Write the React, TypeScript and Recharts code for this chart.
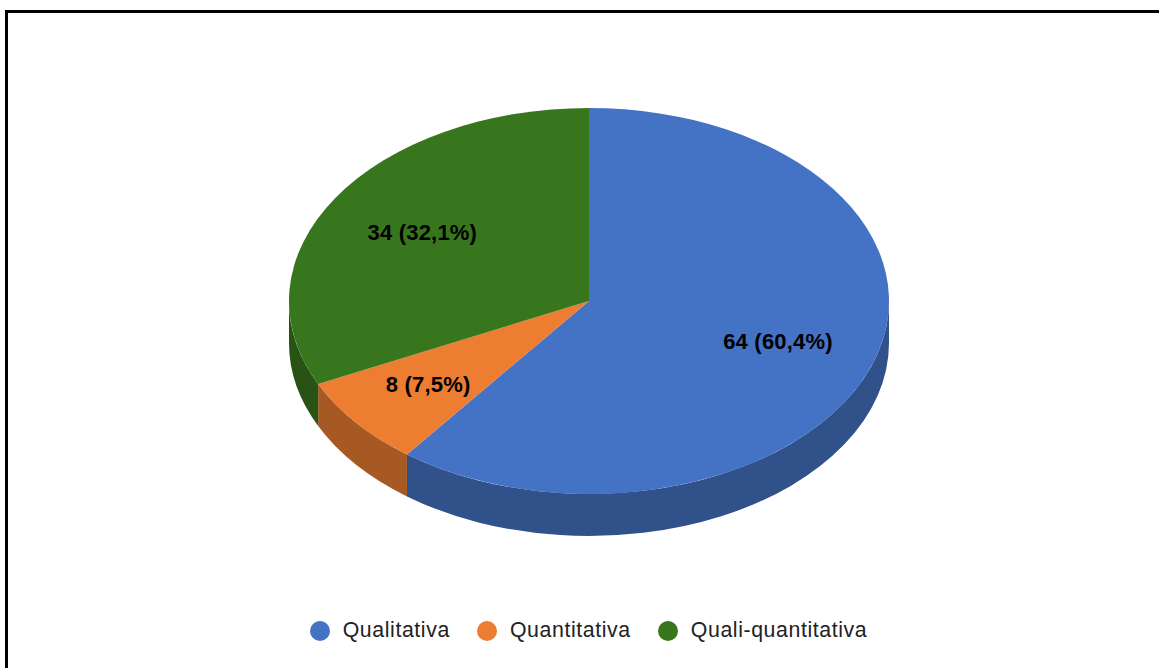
import { PieChart, Pie, Cell, Legend } from "recharts";

const categories = ["Qualitativa", "Quantitativa", "Quali-quantitativa"];
const counts = [64, 8, 34];
const topColors = ["#4472c4", "#ed7d31", "#38761d"];
const wallColors = ["#30518a", "#a65922", "#285314"];

const WIDTH = 1159;
const HEIGHT = 668;
const SQUASH = 193 / 300;
const DEPTH = 42;
const RAD = Math.PI / 180;

const data = categories.map((name, i) => ({ name, value: counts[i] }));

const point = (cx: number, cy: number, r: number, deg: number) => ({
  x: cx + r * Math.cos(deg * RAD),
  y: cy - r * SQUASH * Math.sin(deg * RAD),
});

// flattened slice, angles come from the Pie
function TopSlice(props: any) {
  const { cx, cy, outerRadius: r, startAngle, endAngle, fill } = props;
  const a = point(cx, cy, r, startAngle);
  const b = point(cx, cy, r, endAngle);
  const large = Math.abs(startAngle - endAngle) > 180 ? 1 : 0;
  const d = `M${cx},${cy} L${a.x},${a.y} A${r},${r * SQUASH} 0 ${large} 1 ${b.x},${b.y} Z`;
  return <path d={d} fill={fill} stroke="none" />;
}

// side wall, only the front half (0 to -180 deg) shows
function WallSlice(props: any) {
  const { cx, cy, outerRadius: r, startAngle, endAngle, fill } = props;
  const from = Math.min(startAngle, 0);
  const to = Math.max(endAngle, -180);
  if (from <= to) return <g />;
  const a = point(cx, cy, r, from);
  const b = point(cx, cy, r, to);
  const ry = r * SQUASH;
  const d =
    `M${a.x},${a.y} A${r},${ry} 0 0 1 ${b.x},${b.y} ` +
    `L${b.x},${b.y + DEPTH} A${r},${ry} 0 0 0 ${a.x},${a.y + DEPTH} Z`;
  return <path d={d} fill={fill} stroke="none" />;
}

function SliceLabel(props: any) {
  const { cx, cy, outerRadius: r, midAngle, value, percent, index } = props;
  const p = point(cx, cy, r * 0.665, midAngle);
  const pct = (percent * 100).toFixed(1).replace(".", ",");
  // labels sit slightly off the slices' mid lines in the original
  const dx = [0, -6, 2][index];
  const dy = [-1, 3, 0][index];
  return (
    <text
      x={p.x + dx}
      y={p.y + dy}
      textAnchor="middle"
      dominantBaseline="central"
      fill="#000000"
      fontFamily="Liberation Sans"
      fontWeight="bold"
      fontSize={22}
      letterSpacing={0.2}
    >
      {`${value} (${pct}%)`}
    </text>
  );
}

function LegendRow({ payload }: any) {
  const items = (payload || []).filter((item: any) => topColors.includes(item.color));
  return (
    <div
      style={{
        display: "flex",
        justifyContent: "center",
        gap: 27,
        fontFamily: "Liberation Sans",
        fontSize: 21.3,
        letterSpacing: 0.6,
        color: "#222222",
      }}
    >
      {items.map((item: any) => (
        <div key={item.value} style={{ display: "flex", alignItems: "center", gap: 13 }}>
          <svg width={20} height={20}>
            <circle cx={10} cy={10} r={10} fill={item.color} />
          </svg>
          <span>{item.value}</span>
        </div>
      ))}
    </div>
  );
}

export default function App() {
  return (
    <div style={{ position: "absolute", left: 0, top: 0, width: WIDTH, height: HEIGHT, background: "#ffffff", overflow: "hidden" }}>
      <div
        style={{
          position: "absolute",
          left: 5,
          top: 10,
          width: WIDTH,
          height: HEIGHT,
          borderLeft: "3px solid #000000",
          borderTop: "3px solid #000000",
        }}
      />
      <PieChart width={WIDTH} height={HEIGHT} margin={{ top: 0, right: 0, bottom: 0, left: 0 }} style={{ position: "absolute", left: 0, top: 0 }}>
        <Pie
          data={data}
          dataKey="value"
          nameKey="name"
          cx={589}
          cy={301}
          outerRadius={300}
          startAngle={90}
          endAngle={-270}
          legendType="none"
          shape={WallSlice}
          isAnimationActive={false}
        >
          {data.map((d, i) => (
            <Cell key={d.name} fill={wallColors[i]} />
          ))}
        </Pie>
        <Pie
          data={data}
          dataKey="value"
          nameKey="name"
          cx={589}
          cy={301}
          outerRadius={300}
          startAngle={90}
          endAngle={-270}
          shape={TopSlice}
          label={SliceLabel}
          labelLine={false}
          isAnimationActive={false}
        >
          {data.map((d, i) => (
            <Cell key={d.name} fill={topColors[i]} />
          ))}
        </Pie>
        <Legend
          content={LegendRow}
          itemSorter={null}
          wrapperStyle={{ left: 9, width: WIDTH, top: 618 }}
        />
      </PieChart>
    </div>
  );
}
